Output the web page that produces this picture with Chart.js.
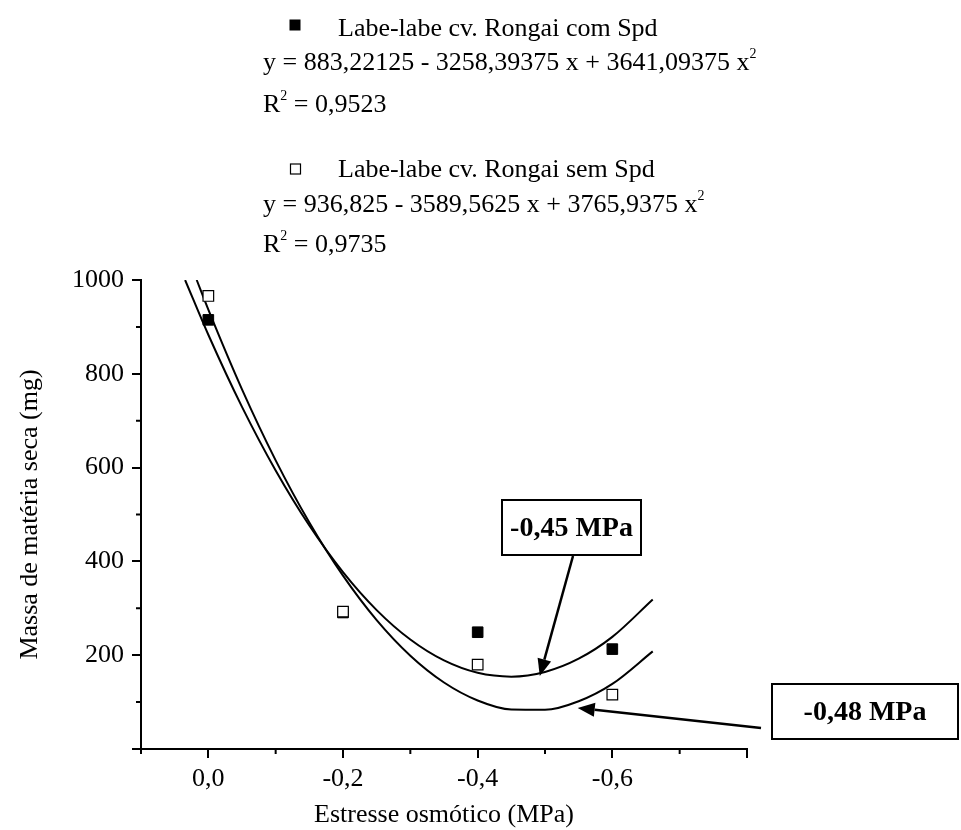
<!DOCTYPE html>
<html>
<head>
<meta charset="utf-8">
<script src="https://cdn.jsdelivr.net/npm/chart.js@4.4.0/dist/chart.umd.min.js"></script>
<style>
  html, body { margin: 0; padding: 0; background: #fff; }
  #wrap { width: 961px; height: 830px; }
</style>
</head>
<body>
<div id="wrap"><canvas id="chart" width="961" height="830"></canvas></div>
<script>
// measured points (x = magnitude of osmotic stress, MPa)
const comX = [0, 0.2, 0.4, 0.6];
const comY = [915, 291, 249, 213];
const semX = [0, 0.2, 0.4, 0.6];
const semY = [966, 293, 180, 116];

// fitted quadratic curves
const fitComX = [-0.0345, 0, 0.05, 0.1, 0.15, 0.2, 0.25, 0.3, 0.35, 0.4, 0.45, 0.5, 0.55, 0.6, 0.66];
const fitComY = [1000, 883.2, 729.4, 593.8, 476.4, 377.2, 296.2, 233.4, 188.8, 162.4, 154.3, 164.3, 192.5, 239.0, 318.7];
const fitSemX = [-0.0173, 0, 0.05, 0.1, 0.15, 0.2, 0.25, 0.3, 0.35, 0.4, 0.45, 0.5, 0.55, 0.6, 0.66];
const fitSemY = [1000, 936.8, 766.8, 615.5, 483.1, 369.6, 274.8, 198.9, 141.8, 103.5, 84.1, 83.5, 101.8, 138.8, 208.2];

// ticks
const xMajor = [0, 0.2, 0.4, 0.6, 0.8];
const xLabels = ['0,0', '-0,2', '-0,4', '-0,6', ''];
const xMinor = [-0.1, 0.1, 0.3, 0.5, 0.7];
const yMajor = [0, 200, 400, 600, 800, 1000];
const yLabels = ['', '200', '400', '600', '800', '1000'];
const yMinor = [100, 300, 500, 700, 900];

// arrow tips (data coords) for the two minimum annotations
const tipCom = [0.4923, 155.8];
const tipSem = [0.5486, 87.5];

const SERIF = "'Liberation Serif', 'Times New Roman', serif";

function pts(xs, ys) {
    return xs.map((v, i) => ({ x: v, y: ys[i] }));
}

function textWithSup(ctx, parts, x, base) {
    let cx = x;
    parts.forEach(([s, sup]) => {
        ctx.font = sup ? '14px ' + SERIF : '26px ' + SERIF;
        ctx.fillText(s, cx, sup ? base - 12 : base);
        cx += ctx.measureText(s).width;
    });
}

function arrow(ctx, x0, y0, x1, y1) {
    const a = Math.atan2(y1 - y0, x1 - x0);
    const len = 17, hw = 7;
    const bx = x1 - len * Math.cos(a), by = y1 - len * Math.sin(a);
    ctx.lineWidth = 2.5;
    ctx.beginPath();
    ctx.moveTo(x0, y0);
    ctx.lineTo(bx, by);
    ctx.stroke();
    ctx.beginPath();
    ctx.moveTo(x1, y1);
    ctx.lineTo(bx + hw * Math.sin(a), by - hw * Math.cos(a));
    ctx.lineTo(bx - hw * Math.sin(a), by + hw * Math.cos(a));
    ctx.closePath();
    ctx.fill();
}

function box(ctx, x, y, w, h, label) {
    ctx.lineWidth = 2;
    ctx.strokeRect(x, y, w, h);
    ctx.font = 'bold 28px ' + SERIF;
    ctx.textAlign = 'center';
    ctx.textBaseline = 'middle';
    ctx.fillText(label, x + w / 2, y + h / 2 + 1);
    ctx.textAlign = 'left';
    ctx.textBaseline = 'alphabetic';
}

const decor = {
    id: 'decor',
    afterDraw(chart) {
        const { ctx, chartArea, scales: { x, y } } = chart;
        ctx.save();
        ctx.strokeStyle = '#000';
        ctx.fillStyle = '#000';

        // minor ticks
        ctx.lineWidth = 2;
        ctx.beginPath();
        xMinor.forEach(v => {
            const px = x.getPixelForValue(v);
            ctx.moveTo(px, chartArea.bottom);
            ctx.lineTo(px, chartArea.bottom + 5);
        });
        yMinor.forEach(v => {
            const py = y.getPixelForValue(v);
            ctx.moveTo(chartArea.left, py);
            ctx.lineTo(chartArea.left - 5, py);
        });
        ctx.stroke();

        // axis titles
        ctx.font = '26px ' + SERIF;
        ctx.textAlign = 'center';
        ctx.textBaseline = 'middle';
        ctx.fillText('Estresse osmótico (MPa)', (chartArea.left + chartArea.right) / 2, 815);
        ctx.save();
        ctx.translate(30, (chartArea.top + chartArea.bottom) / 2);
        ctx.rotate(-Math.PI / 2);
        ctx.fillText('Massa de matéria seca (mg)', 0, 0);
        ctx.restore();

        // legend / equations
        ctx.textAlign = 'left';
        ctx.textBaseline = 'alphabetic';
        ctx.fillRect(289.5, 19.5, 11, 11);
        textWithSup(ctx, [['Labe-labe cv. Rongai com Spd', false]], 338, 36);
        textWithSup(ctx, [['y = 883,22125 - 3258,39375 x + 3641,09375 x', false], ['2', true]], 263, 70);
        textWithSup(ctx, [['R', false], ['2', true], [' = 0,9523', false]], 263, 112);

        ctx.lineWidth = 1.2;
        ctx.strokeRect(290.5, 164, 10, 10);
        textWithSup(ctx, [['Labe-labe cv. Rongai sem Spd', false]], 338, 177);
        textWithSup(ctx, [['y = 936,825 - 3589,5625 x + 3765,9375 x', false], ['2', true]], 263, 212);
        textWithSup(ctx, [['R', false], ['2', true], [' = 0,9735', false]], 263, 252);

        // minimum annotations
        box(ctx, 502, 500, 139, 55, '-0,45 MPa');
        box(ctx, 772, 684, 186, 55, '-0,48 MPa');
        arrow(ctx, 573, 556, x.getPixelForValue(tipCom[0]), y.getPixelForValue(tipCom[1]));
        arrow(ctx, 761, 728, x.getPixelForValue(tipSem[0]), y.getPixelForValue(tipSem[1]));

        ctx.restore();
    }
};

const axisCommon = {
    type: 'linear',
    grid: { drawOnChartArea: false, drawTicks: true, tickLength: 9, color: '#000', lineWidth: 2 },
    border: { display: true, color: '#000', width: 2 }
};

new Chart(document.getElementById('chart'), {
    type: 'scatter',
    data: {
        datasets: [
            {
                label: 'Labe-labe cv. Rongai sem Spd',
                data: pts(semX, semY),
                pointStyle: 'rect',
                pointRadius: 7.5,
                backgroundColor: '#fff',
                borderColor: '#000',
                borderWidth: 1.2,
                order: 0
            },
            {
                label: 'Labe-labe cv. Rongai com Spd',
                data: pts(comX, comY),
                pointStyle: 'rect',
                pointRadius: 7.5,
                backgroundColor: '#000',
                borderColor: '#000',
                borderWidth: 1,
                order: 1
            },
            {
                label: 'ajuste com Spd',
                data: pts(fitComX, fitComY),
                showLine: true,
                pointRadius: 0,
                borderColor: '#000',
                borderWidth: 2,
                cubicInterpolationMode: 'monotone',
                order: 2
            },
            {
                label: 'ajuste sem Spd',
                data: pts(fitSemX, fitSemY),
                showLine: true,
                pointRadius: 0,
                borderColor: '#000',
                borderWidth: 2,
                cubicInterpolationMode: 'monotone',
                order: 2
            }
        ]
    },
    options: {
        responsive: false,
        animation: false,
        layout: { padding: { top: 280, right: 214, bottom: 0, left: 0 } },
        plugins: { legend: { display: false }, tooltip: { enabled: false } },
        scales: {
            x: {
                ...axisCommon,
                min: -0.1,
                max: 0.8,
                afterBuildTicks: s => { s.ticks = xMajor.map(v => ({ value: v })); },
                afterFit: s => { s.height = 81; },
                ticks: {
                    callback: (v, i) => xLabels[i],
                    color: '#000',
                    font: { size: 26, family: SERIF },
                    padding: 6,
                    autoSkip: false,
                    maxRotation: 0
                }
            },
            y: {
                ...axisCommon,
                min: 0,
                max: 1000,
                afterBuildTicks: s => { s.ticks = yMajor.map(v => ({ value: v })); },
                afterFit: s => { s.width = 141; },
                ticks: {
                    callback: (v, i) => yLabels[i],
                    color: '#000',
                    font: { size: 26, family: SERIF },
                    padding: 8,
                    autoSkip: false
                }
            }
        }
    },
    plugins: [decor]
});
</script>
</body>
</html>
